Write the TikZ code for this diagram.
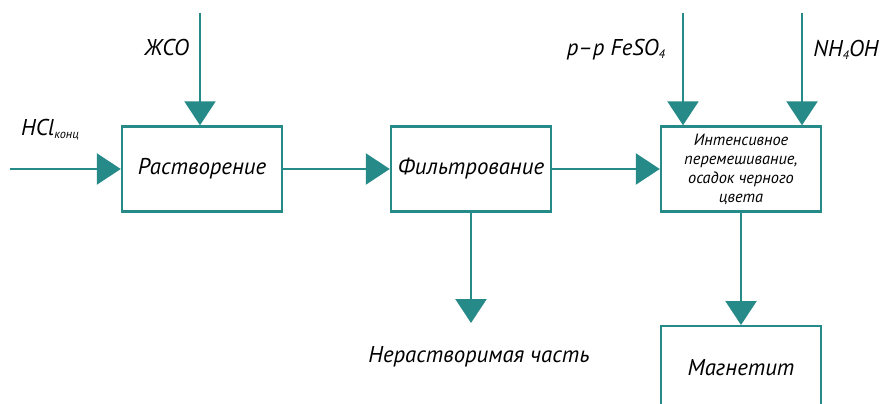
\documentclass[tikz,border=0pt]{standalone}
\usepackage{fontspec}
\setmainfont{PT Sans}
\usetikzlibrary{arrows.meta,positioning}
\definecolor{flowteal}{RGB}{38,138,136}
\newcommand{\lowsub}[1]{\raisebox{-0.25ex}{\scriptsize #1}}

\begin{document}
\begin{tikzpicture}[x=0.02cm, y=-0.02cm, >={Triangle[length=0.48cm,width=0.62cm]},
    block/.style={draw=flowteal, line width=1.4pt, rectangle, minimum width=3.2cm,
      minimum height=1.7cm, inner sep=0pt, font=\itshape\fontsize{13}{15}\selectfont},
    lbl/.style={font=\itshape\fontsize{13}{15}\selectfont, inner sep=1pt},
    flow/.style={->, draw=flowteal, fill=flowteal, line width=1.4pt}]
    \clip (0,0) rectangle (881,404);
    % process boxes
    \node[block] (dissolve) at (202,169) {Растворение};
    \node[block] (filter) at (471,169) {Фильтрование};
    \node[block, align=center, font=\itshape\fontsize{9.3}{10.8}\selectfont] (mix) at (741,169)
      {Интенсивное\\перемешивание,\\осадок черного\\цвета};
    \node[block, minimum height=1.64cm, anchor=north] (magnet) at (741,325) {Магнетит};
    % labels
    \node[lbl] (zhso) at (167,48) {ЖСО};
    \node[lbl] (hcl) at (50,130) {HCl\lowsub{конц}};
    \node[lbl] (feso) at (616,50) {р–р FeSO\lowsub{4}};
    \node[lbl] (nh) at (846,50) {NH\lowsub{4}OH};
    \node[lbl] (insol) at (479,357) {Нерастворимая часть};
    % free ends
    \coordinate (hclin) at (10,169);
    \coordinate (zhsoin) at (200,13);
    \coordinate (fesoin) at (683,13);
    \coordinate (nhin) at (802,13);
    \coordinate (insolend) at (471,323);
    % connectors
    \draw[flow] (hclin) -- (dissolve.west);
    \draw[flow] (zhsoin) -- (zhsoin |- dissolve.north);
    \draw[flow] (dissolve) -- (filter);
    \draw[flow] (filter) -- (mix);
    \draw[flow] (filter.south) -- (insolend);
    \draw[flow] (fesoin) -- (fesoin |- mix.north);
    \draw[flow] (nhin) -- (nhin |- mix.north);
    \draw[flow] (mix) -- (magnet);
\end{tikzpicture}
\end{document}
